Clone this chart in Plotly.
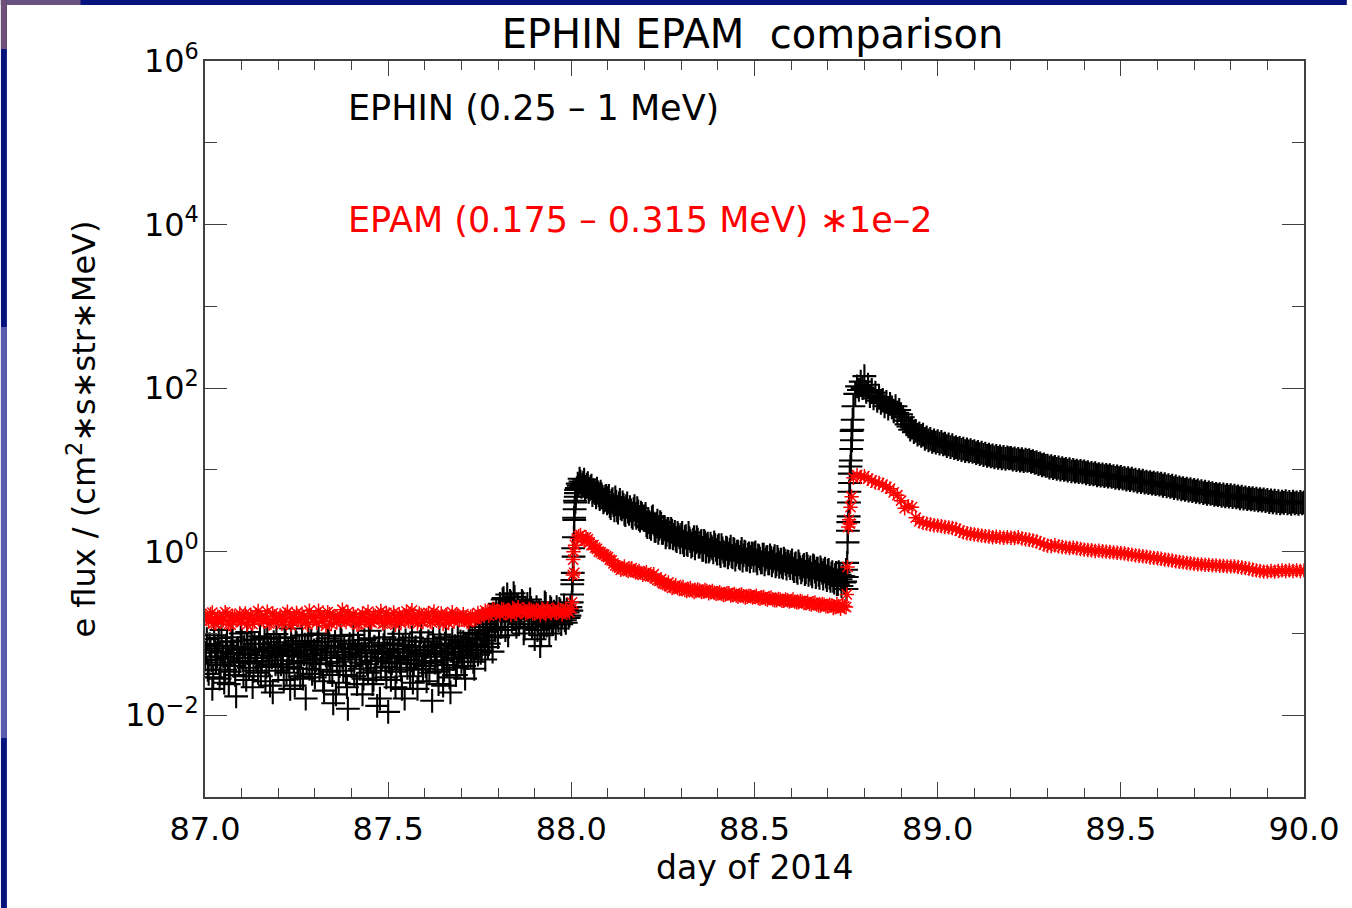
import plotly.graph_objects as go

# ---------------- data ----------------
DAY0 = 87.0
EPHIN_STEP = 0.005   # sampling of the EPHIN series (days)
EPAM_STEP = 0.01     # sampling of the EPAM series (days)

# EPHIN (0.25 - 1 MeV) electron flux, one line per 0.1 day starting at 87.000
ephin_flux = [
    0.048, 0.085, 0.032, 0.062, 0.021, 0.095, 0.044, 0.070, 0.028, 0.110, 0.052, 0.036, 0.078, 0.024, 0.058, 0.090, 0.040, 0.017, 0.066, 0.046,
    0.082, 0.030, 0.055, 0.104, 0.038, 0.064, 0.022, 0.074, 0.050, 0.033, 0.092, 0.045, 0.060, 0.026, 0.086, 0.041, 0.068, 0.019, 0.057, 0.098,
    0.035, 0.072, 0.047, 0.027, 0.088, 0.053, 0.039, 0.115, 0.061, 0.023, 0.076, 0.043, 0.030, 0.094, 0.056, 0.016, 0.069, 0.037, 0.081, 0.049,
    0.029, 0.063, 0.100, 0.042, 0.071, 0.020, 0.054, 0.087, 0.034, 0.059, 0.014, 0.079, 0.045, 0.025, 0.093, 0.051, 0.067, 0.031, 0.012, 0.074,
    0.040, 0.096, 0.058, 0.024, 0.070, 0.044, 0.018, 0.083, 0.052, 0.033, 0.108, 0.062, 0.027, 0.047, 0.013, 0.077, 0.038, 0.056, 0.090, 0.029,
    0.011, 0.065, 0.043, 0.085, 0.022, 0.053, 0.099, 0.036, 0.072, 0.016, 0.048, 0.060, 0.030, 0.089, 0.042, 0.068, 0.021, 0.055, 0.103, 0.037,
    0.063, 0.026, 0.080, 0.046, 0.015, 0.071, 0.052, 0.034, 0.097, 0.058, 0.023, 0.075, 0.041, 0.066, 0.019, 0.084, 0.050, 0.031, 0.092, 0.060,
    0.045, 0.078, 0.028, 0.067, 0.102, 0.052, 0.088, 0.037, 0.074, 0.055, 0.110, 0.062, 0.095, 0.048, 0.130, 0.075, 0.160, 0.060, 0.115, 0.190,
    0.090, 0.230, 0.140, 0.270, 0.110, 0.300, 0.180, 0.240, 0.150, 0.280, 0.120, 0.210, 0.170, 0.250, 0.100, 0.195, 0.230, 0.130, 0.205, 0.160,
    0.085, 0.210, 0.140, 0.070, 0.180, 0.120, 0.230, 0.150, 0.100, 0.200, 0.130, 0.175, 0.210, 0.145, 0.190, 0.160, 0.220, 0.135, 0.180, 0.165,
    0.190, 1.10, 4.20, 6.00, 6.40, 7.20, 6.60, 7.60, 6.20, 6.90, 5.80, 6.40, 5.60, 5.20, 5.90, 4.90, 5.40, 4.60, 4.20, 4.80,
    4.5, 3.6, 4.2, 3.7, 4.6, 3.2, 3.9, 3.4, 4.0, 2.9, 3.6, 3.1, 3.5, 2.7, 3.3, 2.9, 3.4, 2.5, 3.0, 2.7,
    2.7, 2.1, 2.5, 2.0, 2.6, 2.2, 1.8, 2.4, 1.9, 2.2, 1.7, 2.0, 1.6, 1.9, 1.5, 1.8, 1.6, 1.4, 1.7, 1.5,
    1.6, 1.3, 1.5, 1.25, 1.7, 1.35, 1.2, 1.5, 1.3, 1.4, 1.15, 1.35, 1.05, 1.3, 1.2, 1.0, 1.25, 1.1, 1.3, 1.05,
    1.15, 0.95, 1.2, 1.0, 0.9, 1.1, 0.95, 1.15, 0.85, 1.05, 0.92, 1.0, 0.82, 1.08, 0.9, 0.98, 0.8, 0.95, 0.86, 0.93,
    0.95, 0.78, 0.9, 0.82, 0.74, 0.92, 0.8, 0.86, 0.72, 0.84, 0.76, 0.88, 0.7, 0.8, 0.74, 0.66, 0.82, 0.71, 0.76, 0.68,
    0.74, 0.62, 0.7, 0.58, 0.76, 0.64, 0.6, 0.69, 0.56, 0.66, 0.6, 0.54, 0.68, 0.57, 0.62, 0.52, 0.64, 0.55, 0.59, 0.5,
    0.58, 0.48, 0.54, 0.44, 0.52, 0.4, 0.56, 0.46, 0.5, 0.42, 0.6, 1.8, 9.0, 30, 60, 85, 105, 95, 120, 100,
    140, 90, 110, 80, 95, 75, 88, 70, 78, 66, 72, 60, 68, 56, 64, 58, 52, 60, 50, 54,
    48, 44, 40, 36, 34, 31, 33, 29, 30, 27, 28, 26, 27, 24, 25, 23, 24, 22, 23, 21.5,
    22.5, 21, 22, 20.5, 21, 19.5, 20.5, 19, 20, 18.5, 19, 18, 18.6, 17.5, 18.2, 17, 17.8, 16.8, 17.4, 16.6,
    17, 16, 16.6, 15.6, 16.2, 15.2, 15.8, 14.8, 15.4, 14.6, 15, 14.2, 14.8, 14, 14.6, 13.8, 14.4, 13.6, 14.2, 13.8,
    14, 13.4, 13.8, 13.2, 13.6, 13, 13.5, 12.8, 13.3, 12.9, 13.2, 12.5, 12.8, 12.2, 12.4, 11.8, 12, 11.4, 11.7, 11.2,
    11.3, 10.7, 11.1, 10.5, 10.9, 10.3, 10.7, 10.1, 10.5, 10, 10.3, 9.8, 10.2, 9.6, 10, 9.5, 9.8, 9.4, 9.7, 9.3,
    9.6, 9.1, 9.4, 8.9, 9.2, 8.8, 9.1, 8.6, 8.9, 8.5, 8.8, 8.4, 8.7, 8.3, 8.6, 8.2, 8.4, 8.0, 8.3, 7.9,
    8.2, 7.8, 8.0, 7.6, 7.9, 7.5, 7.8, 7.4, 7.6, 7.2, 7.5, 7.1, 7.4, 7.0, 7.2, 6.9, 7.1, 6.8, 7.0, 6.7,
    6.9, 6.6, 6.8, 6.4, 6.7, 6.3, 6.5, 6.2, 6.4, 6.0, 6.3, 5.9, 6.1, 5.8, 6.0, 5.7, 5.9, 5.6, 5.8, 5.5,
    5.7, 5.4, 5.6, 5.3, 5.5, 5.2, 5.4, 5.1, 5.3, 5.1, 5.2, 4.95, 5.1, 4.9, 5.05, 4.8, 5.0, 4.75, 4.95, 4.7,
    4.9, 4.65, 4.85, 4.6, 4.75, 4.5, 4.7, 4.45, 4.6, 4.4, 4.55, 4.35, 4.5, 4.3, 4.45, 4.25, 4.4, 4.2, 4.35, 4.15,
    4.3, 4.05, 4.25, 4.0, 4.2, 3.95, 4.15, 3.9, 4.1, 3.95, 4.15, 3.9, 4.05, 3.85, 4.1, 3.9, 4.0, 3.85, 4.05, 3.9,
    4.0,
]

# EPHIN samples in between (87.0025, 87.0075, ... 88.7475), one line per 0.1 day
ephin_mid_flux = [
    0.058, 0.036, 0.074, 0.047, 0.029, 0.066, 0.052, 0.088, 0.041, 0.060, 0.025, 0.071, 0.049, 0.034, 0.080, 0.056, 0.031, 0.063, 0.044, 0.100,
    0.050, 0.069, 0.027, 0.057, 0.043, 0.084, 0.035, 0.062, 0.046, 0.075, 0.030, 0.054, 0.088, 0.039, 0.065, 0.023, 0.051, 0.078, 0.042, 0.061,
    0.070, 0.042, 0.055, 0.090, 0.033, 0.064, 0.021, 0.058, 0.046, 0.081, 0.037, 0.067, 0.052, 0.028, 0.073, 0.044, 0.096, 0.055, 0.032, 0.062,
    0.047, 0.078, 0.036, 0.058, 0.026, 0.066, 0.043, 0.095, 0.050, 0.031, 0.070, 0.018, 0.060, 0.040, 0.082, 0.035, 0.055, 0.022, 0.064, 0.048,
    0.066, 0.030, 0.052, 0.075, 0.037, 0.057, 0.028, 0.063, 0.042, 0.087, 0.046, 0.024, 0.069, 0.035, 0.059, 0.016, 0.050, 0.072, 0.039, 0.061,
    0.045, 0.027, 0.076, 0.050, 0.034, 0.064, 0.044, 0.021, 0.058, 0.082, 0.038, 0.070, 0.047, 0.025, 0.062, 0.052, 0.036, 0.079, 0.043, 0.056,
    0.040, 0.068, 0.033, 0.057, 0.086, 0.044, 0.061, 0.024, 0.073, 0.047, 0.036, 0.090, 0.055, 0.029, 0.065, 0.049, 0.070, 0.038, 0.058, 0.080,
    0.055, 0.040, 0.072, 0.050, 0.085, 0.063, 0.045, 0.098, 0.070, 0.120, 0.058, 0.140, 0.082, 0.105, 0.068, 0.150, 0.090, 0.175, 0.110, 0.145,
    0.200, 0.120, 0.260, 0.160, 0.210, 0.095, 0.250, 0.140, 0.310, 0.170, 0.220, 0.130, 0.185, 0.240, 0.115, 0.200, 0.150, 0.260, 0.120, 0.180,
    0.160, 0.110, 0.190, 0.095, 0.150, 0.240, 0.125, 0.170, 0.210, 0.140, 0.185, 0.115, 0.160, 0.200, 0.130, 0.175, 0.145, 0.195, 0.155, 0.210,
    0.40, 2.6, 5.2, 6.8, 7.8, 6.2, 7.0, 5.8, 6.6, 5.4, 6.2, 4.9, 5.6, 4.6, 5.3, 4.4, 5.0, 4.0, 4.7, 3.9,
    4.8, 3.4, 4.4, 3.2, 4.1, 3.0, 4.3, 3.3, 3.7, 2.8, 3.9, 2.9, 3.2, 2.6, 3.6, 2.6, 3.1, 2.4, 2.9, 2.5,
    2.9, 2.0, 2.3, 1.9, 2.7, 1.8, 2.2, 1.7, 2.3, 1.7, 2.0, 1.5, 1.9, 1.5, 1.9, 1.45, 1.75, 1.35, 1.6, 1.3,
    1.7, 1.2, 1.55, 1.2, 1.45, 1.15, 1.4, 1.1, 1.5, 1.15, 1.3, 1.05, 1.35, 1.0, 1.25, 1.05, 1.15, 0.98, 1.2, 0.95,
    1.2, 0.88, 1.1, 0.9, 1.12, 0.85, 1.05, 0.88, 1.08, 0.8, 1.0, 0.86, 0.98, 0.78, 1.0, 0.8, 0.92, 0.76, 0.95, 0.78,
    0.98, 0.72, 0.88, 0.74, 0.92, 0.7, 0.85, 0.72, 0.9, 0.68, 0.82, 0.66, 0.86, 0.65, 0.8, 0.64, 0.78, 0.62, 0.75, 0.63,
    0.78, 0.58, 0.72, 0.55, 0.7, 0.56, 0.66, 0.53, 0.71, 0.52, 0.64, 0.5, 0.66, 0.49, 0.62, 0.48, 0.6, 0.47, 0.62, 0.45,
    0.6, 0.44, 0.56, 0.42, 0.55, 0.4, 0.52, 0.38, 0.5, 0.43,
]

# extra EPHIN samples during the two fast onsets
ephin_onset_days = [88.001, 88.002, 88.003, 88.004, 88.006, 88.007, 88.008, 88.009, 88.011, 88.012, 88.013,
                    88.751, 88.752, 88.753, 88.754, 88.756, 88.757, 88.758, 88.759, 88.761, 88.762, 88.763,
                    88.764, 88.766, 88.767, 88.768]
ephin_onset_flux = [0.24, 0.30, 0.45, 0.55, 0.87, 1.5, 2.45, 3.3, 4.0, 4.7, 5.7,
                    0.35, 0.49, 0.73, 1.3, 2.3, 2.7, 4.0, 5.4, 6.9, 11, 13,
                    18, 23, 31, 41]

# EPAM (0.175 - 0.315 MeV) flux * 1e-2, one line per 0.1 day starting at 87.00
epam_flux = [
    0.165, 0.140, 0.180, 0.132, 0.158, 0.146, 0.172, 0.128, 0.160, 0.150,
    0.138, 0.176, 0.150, 0.130, 0.168, 0.155, 0.142, 0.185, 0.135, 0.162,
    0.148, 0.130, 0.170, 0.156, 0.138, 0.178, 0.145, 0.160, 0.128, 0.166,
    0.152, 0.190, 0.140, 0.124, 0.172, 0.158, 0.136, 0.168, 0.146, 0.182,
    0.142, 0.160, 0.130, 0.176, 0.150, 0.138, 0.170, 0.155, 0.188, 0.134,
    0.164, 0.146, 0.128, 0.172, 0.152, 0.186, 0.140, 0.160, 0.132, 0.168,
    0.150, 0.178, 0.136, 0.162, 0.144, 0.130, 0.170, 0.154, 0.140, 0.166,
    0.148, 0.158, 0.138, 0.165, 0.150, 0.160, 0.172, 0.182, 0.176, 0.195,
    0.185, 0.200, 0.178, 0.192, 0.205, 0.174, 0.188, 0.198, 0.180, 0.194,
    0.176, 0.190, 0.200, 0.172, 0.186, 0.196, 0.178, 0.192, 0.184, 0.188,
    0.20, 1.2, 1.55, 1.45, 1.5, 1.3, 1.2, 1.08, 0.98, 0.92,
    0.86, 0.78, 0.68, 0.64, 0.63, 0.6, 0.61, 0.58, 0.56, 0.55,
    0.54, 0.52, 0.5, 0.47, 0.44, 0.41, 0.4, 0.38, 0.37, 0.36,
    0.355, 0.34, 0.345, 0.335, 0.33, 0.335, 0.325, 0.33, 0.32, 0.315,
    0.31, 0.305, 0.3, 0.31, 0.295, 0.29, 0.295, 0.285, 0.28, 0.285,
    0.28, 0.27, 0.275, 0.265, 0.27, 0.26, 0.255, 0.26, 0.25, 0.255,
    0.25, 0.245, 0.24, 0.245, 0.235, 0.23, 0.235, 0.225, 0.22, 0.225,
    0.215, 0.22, 0.21, 0.215, 0.22, 0.21, 2.2, 8.0, 8.6, 8.2,
    8.4, 7.8, 7.4, 7.0, 6.9, 6.6, 6.2, 5.9, 5.3, 4.9,
    4.2, 3.4, 3.6, 3.5, 2.6, 2.35, 2.25, 2.2, 2.15, 2.1,
    2.08, 2.05, 2.0, 1.98, 1.95, 1.9, 1.8, 1.72, 1.68, 1.65,
    1.62, 1.6, 1.57, 1.55, 1.53, 1.5, 1.52, 1.5, 1.48, 1.5,
    1.48, 1.47, 1.5, 1.45, 1.42, 1.4, 1.37, 1.33, 1.28, 1.22,
    1.18, 1.17, 1.2, 1.16, 1.14, 1.13, 1.11, 1.12, 1.1, 1.08,
    1.06, 1.05, 1.04, 1.02, 1.03, 1.01, 1.0, 0.99, 0.98, 0.97,
    0.96, 0.95, 0.93, 0.92, 0.9, 0.89, 0.88, 0.87, 0.85, 0.84,
    0.83, 0.82, 0.8, 0.79, 0.78, 0.76, 0.75, 0.74, 0.73, 0.72,
    0.71, 0.7, 0.7, 0.69, 0.69, 0.68, 0.68, 0.67, 0.67, 0.66,
    0.66, 0.66, 0.65, 0.64, 0.63, 0.62, 0.6, 0.59, 0.58, 0.57,
    0.57, 0.58, 0.57, 0.58, 0.59, 0.58, 0.59, 0.58, 0.59, 0.58,
    0.59,
]

# EPAM samples in between (87.005, 87.015, ... 88.745), one line per 0.1 day
epam_mid_flux = [
    0.150, 0.172, 0.135, 0.160, 0.142, 0.182, 0.130, 0.165, 0.145, 0.175,
    0.158, 0.128, 0.170, 0.140, 0.188, 0.148, 0.162, 0.132, 0.176, 0.150,
    0.166, 0.140, 0.184, 0.126, 0.160, 0.146, 0.174, 0.136, 0.190, 0.152,
    0.135, 0.170, 0.155, 0.182, 0.130, 0.162, 0.148, 0.195, 0.138, 0.160,
    0.172, 0.128, 0.158, 0.144, 0.185, 0.136, 0.164, 0.150, 0.132, 0.178,
    0.140, 0.180, 0.155, 0.134, 0.166, 0.142, 0.192, 0.150, 0.176, 0.138,
    0.168, 0.140, 0.186, 0.150, 0.176, 0.158, 0.134, 0.182, 0.164, 0.145,
    0.172, 0.140, 0.160, 0.150, 0.178, 0.168, 0.190, 0.165, 0.200, 0.180,
    0.170, 0.196, 0.188, 0.168, 0.190, 0.210, 0.182, 0.176, 0.200, 0.175,
    0.195, 0.170, 0.182, 0.204, 0.176, 0.180, 0.200, 0.170, 0.196, 0.180,
    0.8, 1.45, 1.6, 1.35, 1.42, 1.2, 1.12, 1.0, 0.94, 0.88,
    0.8, 0.72, 0.66, 0.6, 0.66, 0.58, 0.63, 0.56, 0.58, 0.52,
    0.56, 0.5, 0.53, 0.45, 0.46, 0.4, 0.42, 0.36, 0.39, 0.35,
    0.37, 0.33, 0.36, 0.32, 0.345, 0.32, 0.34, 0.31, 0.33, 0.305,
    0.32, 0.295, 0.31, 0.29, 0.305, 0.28, 0.3, 0.275, 0.29, 0.275,
    0.29, 0.265, 0.28, 0.26, 0.275, 0.255, 0.265, 0.25, 0.26, 0.245,
    0.26, 0.24, 0.25, 0.235, 0.245, 0.225, 0.24, 0.22, 0.23, 0.215,
    0.225, 0.205, 0.23, 0.2, 0.215,
]

epam_onset_days = [88.002, 88.004, 88.006, 88.008, 88.752, 88.754, 88.756, 88.758, 88.762, 88.765]
epam_onset_flux = [0.24, 0.52, 1.0, 0.55, 0.30, 0.65, 2.0, 2.45, 3.5, 4.7]

x_tick_vals = [87.0, 87.5, 88.0, 88.5, 89.0, 89.5, 90.0]
x_tick_text = ["87.0", "87.5", "88.0", "88.5", "89.0", "89.5", "90.0"]
y_tick_vals = [1e-2, 1e0, 1e2, 1e4, 1e6]
y_tick_text = ["10<sup>\u22122</sup>", "10<sup>0</sup>", "10<sup>2</sup>", "10<sup>4</sup>", "10<sup>6</sup>"]
y_minor_vals = [1e-1, 1e1, 1e3, 1e5]

assert len(ephin_flux) == 601, len(ephin_flux)
assert len(ephin_mid_flux) == 350, len(ephin_mid_flux)
assert len(epam_flux) == 301, len(epam_flux)
assert len(epam_mid_flux) == 175, len(epam_mid_flux)

ephin_days = [round(DAY0 + i * EPHIN_STEP, 4) for i in range(len(ephin_flux))]
ephin_mid_days = [round(DAY0 + (i + 0.5) * EPHIN_STEP, 4) for i in range(len(ephin_mid_flux))]
epam_days = [round(DAY0 + i * EPAM_STEP, 4) for i in range(len(epam_flux))]
epam_mid_days = [round(DAY0 + (i + 0.5) * EPAM_STEP, 4) for i in range(len(epam_mid_flux))]

# ---------------- figure ----------------
W, H = 1352, 908
ML, MR, MT, MB = 205, 43, 61, 111
PW, PH = W - ML - MR, H - MT - MB


def px(x):
    return (x - ML) / PW


def py(y):
    return (H - MB - y) / PH


FONT = "DejaVu Sans"
AXC = "#404040"

fig = go.Figure()
fig.add_trace(go.Scatter(
    x=ephin_days + ephin_mid_days + ephin_onset_days,
    y=ephin_flux + ephin_mid_flux + ephin_onset_flux,
    mode="markers", name="EPHIN",
    marker=dict(symbol="cross-thin-open", size=17, color="black",
                line=dict(width=2.1, color="black")),
    showlegend=False,
))
fig.add_trace(go.Scatter(
    x=epam_days + epam_mid_days + epam_onset_days,
    y=epam_flux + epam_mid_flux + epam_onset_flux,
    mode="markers", name="EPAM",
    marker=dict(symbol="asterisk-open", size=12, color="#ff0000",
                line=dict(width=1.5, color="#ff0000")),
    showlegend=False,
))

axis_common = dict(showline=True, linecolor=AXC, linewidth=1.5, mirror="ticks",
                   ticks="inside", tickcolor=AXC, tickwidth=1.2,
                   showgrid=False, zeroline=False,
                   tickfont=dict(family=FONT, size=32, color="black"))

fig.update_xaxes(range=[87.0, 90.0], tickmode="array", tickvals=x_tick_vals, ticktext=x_tick_text,
                 ticklen=15, ticklabelstandoff=3,
                 minor=dict(dtick=0.1, tick0=87.0, ticks="inside", ticklen=9,
                            tickcolor=AXC, tickwidth=1.2, showgrid=False),
                 **axis_common)
fig.update_yaxes(type="log", range=[-3, 6], tickmode="array", tickvals=y_tick_vals, ticktext=y_tick_text,
                 ticklen=22, ticklabelstandoff=-2,
                 minor=dict(tickmode="array", tickvals=y_minor_vals, ticks="inside", ticklen=12,
                            tickcolor=AXC, tickwidth=1.2, showgrid=False),
                 **axis_common)

annotations = [
    dict(text="EPHIN (0.25 \u2013 1 MeV)", x=px(347), y=py(108), xanchor="left", yanchor="middle",
         font=dict(family=FONT, size=35, color="black")),
    dict(text="EPAM (0.175 \u2013 0.315 MeV) \u22171e\u20132", x=px(347), y=py(220), xanchor="left",
         yanchor="middle", font=dict(family=FONT, size=35, color="#ff0000")),
    dict(text="day of 2014", x=0.5, y=py(867), xanchor="center", yanchor="middle",
         font=dict(family=FONT, size=33, color="black")),
    dict(text="e flux / (cm<sup>2</sup>\u2217s\u2217str\u2217MeV)", x=px(81), y=0.5, textangle=-90,
         xanchor="center", yanchor="middle", font=dict(family=FONT, size=32, color="black")),
]
for a in annotations:
    a.update(xref="paper", yref="paper", showarrow=False)

NAVY = "#06137c"
shapes = [
    dict(type="rect", x0=px(0), x1=px(W), y0=py(5), y1=py(0), fillcolor=NAVY),
    dict(type="rect", x0=px(0), x1=px(80), y0=py(5), y1=py(0), fillcolor="#6a5280"),
    dict(type="rect", x0=px(0), x1=px(6), y0=py(908), y1=py(0), fillcolor=NAVY),
    dict(type="rect", x0=px(0), x1=px(6), y0=py(49), y1=py(0), fillcolor="#6e5078"),
    dict(type="rect", x0=px(0), x1=px(6), y0=py(738), y1=py(327), fillcolor="#5a5dad"),
]
for s in shapes:
    s.update(xref="paper", yref="paper", line=dict(width=0), layer="below")

fig.update_layout(
    width=W, height=H,
    margin=dict(l=ML, r=MR, t=MT, b=MB, pad=0),
    paper_bgcolor="white", plot_bgcolor="white",
    title=dict(text="EPHIN EPAM  comparison", x=px(755), xanchor="center", y=1 - 34 / H, yanchor="middle",
               xref="paper", font=dict(family=FONT, size=40, color="black")),
    annotations=annotations, shapes=shapes,
    showlegend=False,
)

fig.write_html("out.html")
